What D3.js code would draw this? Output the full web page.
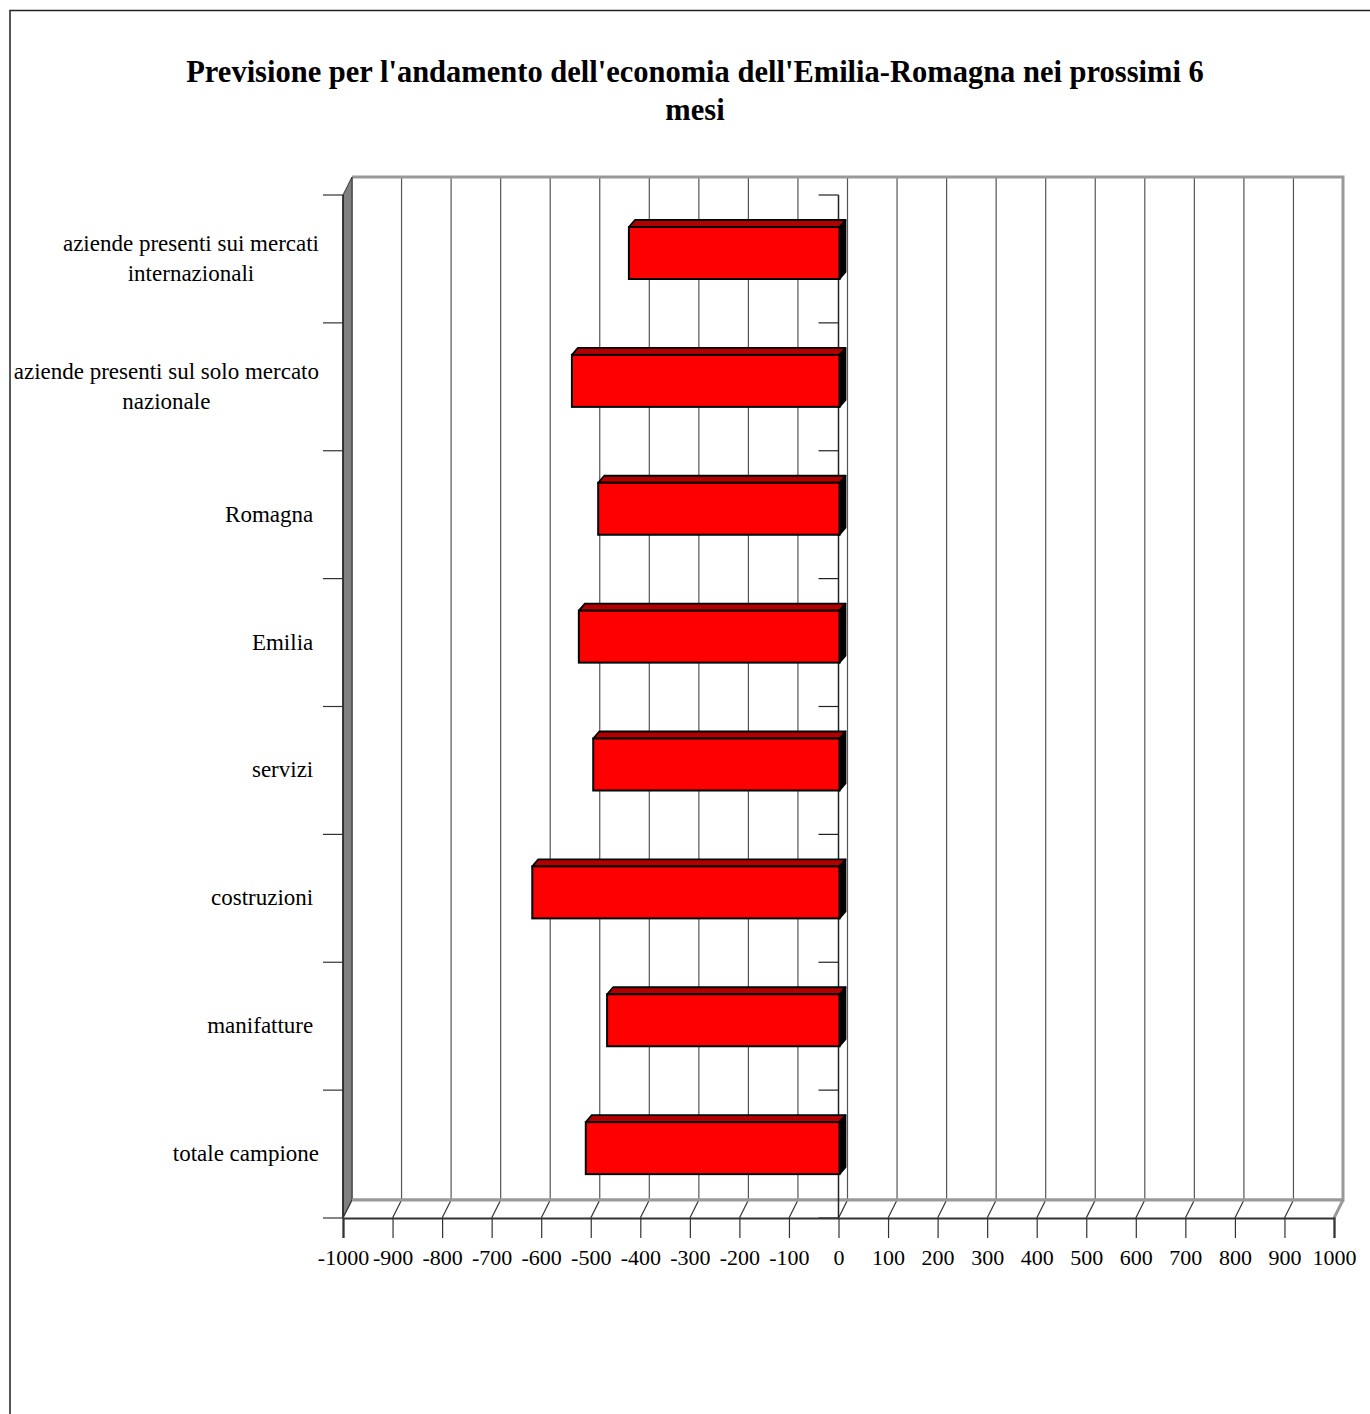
<!DOCTYPE html>
<html>
<head>
<meta charset="utf-8">
<script src="https://cdn.jsdelivr.net/npm/d3@7"></script>
<style>
  html, body { margin: 0; padding: 0; background: #fff; }
  svg text { font-family: "Liberation Serif", "Times New Roman", serif; fill: #000; white-space: pre; }
</style>
</head>
<body>
<svg id="chart" width="1370" height="1414"></svg>
<script>
// Forecast balances by segment (top to bottom)
const categories = [
  "aziende presenti sui mercati\ninternazionali",
  "aziende presenti sul solo mercato\nnazionale",
  "Romagna ",
  "Emilia ",
  "servizi ",
  "costruzioni ",
  "manifatture ",
  "totale campione"
];
const values = [-423, -538, -485, -524, -495, -618, -467, -510];
const tickValues = d3.range(-1000, 1001, 100);
const titleLines = [
  "Previsione per l'andamento dell'economia dell'Emilia-Romagna nei prossimi 6",
  "mesi"
];

const svg = d3.select("#chart");

// outer frame
svg.append("rect")
  .attr("x", 10).attr("y", 10.5)
  .attr("width", 1420).attr("height", 1450)
  .attr("fill", "none").attr("stroke", "#222").attr("stroke-width", 1.5);

// front plane geometry and 3D depth offset
const pLeft = 343, pRight = 1334, pTop = 195, pBottom = 1218;
const DX = 9, DY = -18;

const x = d3.scaleLinear().domain([-1000, 1000]).range([pLeft, pRight]);
const y = d3.scaleBand().domain(categories).range([pTop, pBottom]).padding(0);

// title
svg.append("g").selectAll("text").data(titleLines).join("text")
  .attr("x", 695).attr("y", (d, i) => 82 + i * 38)
  .attr("text-anchor", "middle")
  .attr("font-size", 30.5).attr("font-weight", "bold")
  .text(d => d);

// back wall gridlines
svg.append("g").selectAll("line").data(tickValues).join("line")
  .attr("x1", d => x(d) + DX).attr("x2", d => x(d) + DX)
  .attr("y1", pTop + DY).attr("y2", pBottom + DY)
  .attr("stroke", "#555").attr("stroke-width", 1.2);

// back wall border (top, right, floor edge)
svg.append("path")
  .attr("d", `M${pLeft + DX},${pTop + DY}H${pRight + DX}V${pBottom + DY}H${pLeft + DX}`)
  .attr("fill", "none").attr("stroke", "#999").attr("stroke-width", 3);

// left side wall
svg.append("path")
  .attr("d", `M${pLeft},${pTop}L${pLeft + DX},${pTop + DY}V${pBottom + DY}L${pLeft},${pBottom}Z`)
  .attr("fill", "#808080").attr("stroke", "#333").attr("stroke-width", 1);
svg.append("line")
  .attr("x1", pLeft).attr("x2", pLeft).attr("y1", pTop).attr("y2", pBottom)
  .attr("stroke", "#222").attr("stroke-width", 1.5);

// floor
svg.append("path")
  .attr("d", `M${pLeft},${pBottom}L${pLeft + DX},${pBottom + DY}H${pRight + DX}L${pRight},${pBottom}Z`)
  .attr("fill", "#fff").attr("stroke", "none");
svg.append("g").selectAll("line").data(tickValues).join("line")
  .attr("x1", d => x(d)).attr("y1", pBottom)
  .attr("x2", d => x(d) + DX).attr("y2", pBottom + DY)
  .attr("stroke", "#333").attr("stroke-width", 1.2);
svg.append("line")
  .attr("x1", pRight).attr("y1", pBottom).attr("x2", pRight + DX).attr("y2", pBottom + DY)
  .attr("stroke", "#999").attr("stroke-width", 3);
svg.append("line")
  .attr("x1", pLeft + DX).attr("x2", pRight + DX).attr("y1", pBottom + DY).attr("y2", pBottom + DY)
  .attr("stroke", "#999").attr("stroke-width", 3);

// category axis ticks on the left wall
const boundaries = categories.map(c => y(c)).concat([pBottom]);
svg.append("g").selectAll("line").data(boundaries).join("line")
  .attr("x1", pLeft - 20).attr("x2", pLeft)
  .attr("y1", d => d).attr("y2", d => d)
  .attr("stroke", "#333").attr("stroke-width", 1.2);

// zero line with its small ticks
svg.append("line")
  .attr("x1", x(0)).attr("x2", x(0)).attr("y1", pTop).attr("y2", pBottom)
  .attr("stroke", "#222").attr("stroke-width", 1.5);
svg.append("g").selectAll("line").data(boundaries).join("line")
  .attr("x1", x(0) - 20).attr("x2", x(0))
  .attr("y1", d => d).attr("y2", d => d)
  .attr("stroke", "#222").attr("stroke-width", 1.2);

// value axis along the front of the floor
const xAxis = d3.axisBottom(x).tickValues(tickValues).tickSize(20).tickPadding(11)
  .tickFormat(d3.format("d"));
const ax = svg.append("g").attr("transform", `translate(0,${pBottom})`).call(xAxis);
ax.select(".domain").attr("stroke", "#333").attr("stroke-width", 2.2);
ax.selectAll(".tick line").attr("stroke", "#333").attr("stroke-width", 1.2);
ax.selectAll(".tick text")
  .attr("font-family", '"Liberation Serif", "Times New Roman", serif')
  .attr("font-size", 22).attr("fill", "#000")
  .text(d => String(d));

// 3D bars
const BDX = 6, BDY = -7;
const barTop = 32, barH = 52;
const bars = svg.append("g").selectAll("g").data(values).join("g");
bars.each(function (v, i) {
  const g = d3.select(this);
  const x0 = x(Math.min(v, 0)), x1 = x(Math.max(v, 0)) + 1;
  const y0 = y(categories[i]) + barTop, y1 = y0 + barH;
  g.append("path")
    .attr("d", `M${x0},${y0}L${x0 + BDX},${y0 + BDY}H${x1 + BDX}L${x1},${y0}Z`)
    .attr("fill", "#b20000").attr("stroke", "#000").attr("stroke-width", 1.8).attr("stroke-linejoin", "round");
  g.append("path")
    .attr("d", `M${x1},${y0}L${x1 + BDX},${y0 + BDY}V${y1 + BDY}L${x1},${y1}Z`)
    .attr("fill", "#000").attr("stroke", "#000").attr("stroke-width", 1.8).attr("stroke-linejoin", "round");
  g.append("rect")
    .attr("x", x0).attr("y", y0).attr("width", x1 - x0).attr("height", barH)
    .attr("fill", "#ff0000").attr("stroke", "#000").attr("stroke-width", 2);
});

// category labels: each block right-aligned, lines centred within the block
const labelRight = 319, lineGap = 30, fs = 23;
categories.forEach(c => {
  const lines = c.split("\n");
  const g = svg.append("g");
  const texts = lines.map(l => g.append("text").attr("font-size", fs).text(l));
  const w = d3.max(texts, t => t.node().getComputedTextLength());
  const cx = labelRight - w / 2;
  const cy = y(c) + y.bandwidth() / 2;
  texts.forEach((t, i) => {
    t.attr("x", cx).attr("text-anchor", "middle")
     .attr("y", cy + (i - (lines.length - 1) / 2) * lineGap + 7);
  });
});
</script>
</body>
</html>
